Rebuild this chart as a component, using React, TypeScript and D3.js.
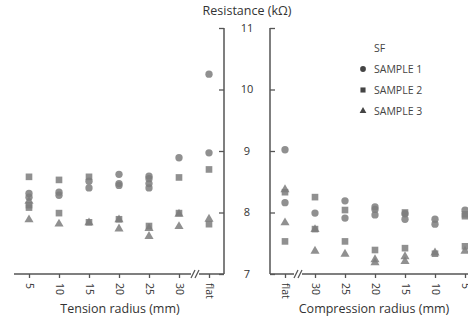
import * as React from 'react'
import { useEffect, useRef } from 'react'
import * as d3 from 'd3'

// categories
const tensionCats = ['5', '10', '15', '20', '25', '30', 'flat']
const compressionCats = ['flat', '30', '25', '20', '15', '10', '5']
const yTicks = [7, 8, 9, 10, 11]
const seriesNames = ['SAMPLE 1', 'SAMPLE 2', 'SAMPLE 3']

// [category, resistance]
const tensionS1: [string, number][] = [
  ['5', 8.31], ['5', 8.25], ['10', 8.33], ['10', 8.28], ['15', 8.51], ['15', 8.4],
  ['20', 8.62], ['20', 8.47], ['20', 8.44], ['25', 8.59], ['25', 8.55], ['25', 8.47],
  ['25', 8.4], ['30', 8.89], ['flat', 10.25], ['flat', 8.97],
]
const tensionS2: [string, number][] = [
  ['5', 8.58], ['5', 8.12], ['5', 8.08], ['10', 8.53], ['10', 7.99], ['15', 8.58],
  ['15', 7.84], ['20', 7.89], ['25', 7.78], ['30', 8.57], ['30', 7.99],
  ['flat', 8.7], ['flat', 7.81],
]
const tensionS3: [string, number][] = [
  ['5', 8.2], ['5', 7.9], ['10', 7.83], ['15', 7.85], ['20', 7.9], ['20', 7.75],
  ['25', 7.76], ['25', 7.63], ['30', 7.99], ['30', 7.79], ['flat', 7.91],
]
const compS1: [string, number][] = [
  ['flat', 9.02], ['flat', 8.16], ['30', 7.99], ['25', 8.19], ['25', 7.91],
  ['20', 8.09], ['20', 8.05], ['20', 7.96], ['15', 7.98], ['15', 7.89],
  ['10', 7.89], ['10', 7.81], ['5', 8.04],
]
const compS2: [string, number][] = [
  ['flat', 8.33], ['flat', 7.53], ['30', 8.25], ['30', 7.73], ['25', 8.04], ['25', 7.53],
  ['20', 7.39], ['15', 8.0], ['15', 7.42], ['10', 7.33], ['5', 7.97], ['5', 7.94], ['5', 7.45],
]
const compS3: [string, number][] = [
  ['flat', 8.39], ['flat', 7.85], ['30', 7.74], ['30', 7.39], ['25', 7.34],
  ['20', 7.25], ['20', 7.2], ['15', 7.3], ['15', 7.22], ['10', 7.36], ['5', 7.39],
]

const W = 468
const H = 318
const FONT = '"Open Sans", sans-serif'
const AXIS = '#555'
const MARK = '#7d7d7d'

const App = () => {
  const ref = useRef<SVGSVGElement | null>(null)

  useEffect(() => {
    const svg = d3.select(ref.current)
    svg.selectAll('*').remove()

    const y = d3.scaleLinear().domain([7, 11]).range([274, 28])
    const xL = d3.scalePoint().domain(tensionCats).range([29, 209])
    const xR = d3.scalePoint().domain(compressionCats).range([285, 465])

    const symbols = [d3.symbolCircle, d3.symbolSquare, d3.symbolTriangle]
    const sizes = [42, 44, 36]

    const drawPoints = (data: [string, number][][], x: d3.ScalePoint<string>) => {
      data.forEach((pts, i) => {
        const sym = d3.symbol().type(symbols[i]).size(sizes[i])
        svg.append('g')
          .selectAll('path')
          .data(pts)
          .enter()
          .append('path')
          .attr('d', sym)
          .attr('transform', d => `translate(${x(d[0])},${y(d[1]) + (i === 2 ? 1 : 0)})`)
          .attr('fill', MARK)
          .attr('fill-opacity', 0.85)
      })
    }

    // left panel: bottom axis
    const gL = svg.append('g').attr('transform', 'translate(0,274)')
    gL.call(d3.axisBottom(xL).tickSize(4).tickSizeOuter(0))
    gL.select('.domain').remove()
    gL.append('line').attr('x1', 14).attr('x2', 224).attr('stroke', AXIS).attr('stroke-width', 1.5)
    // left panel: right axis, no labels
    const gLY = svg.append('g').attr('transform', 'translate(224,0)')
    gLY.call(d3.axisLeft(y).tickValues(yTicks).tickSize(5).tickFormat(() => ''))
    gLY.select('.domain').remove()
    gLY.append('line').attr('y1', 28).attr('y2', 274).attr('stroke', AXIS).attr('stroke-width', 1.5)

    // right panel
    const gR = svg.append('g').attr('transform', 'translate(0,274)')
    gR.call(d3.axisBottom(xR).tickSize(4).tickSizeOuter(0))
    gR.select('.domain').remove()
    gR.append('line').attr('x1', 270).attr('x2', W).attr('stroke', AXIS).attr('stroke-width', 1.5)
    const gRY = svg.append('g').attr('transform', 'translate(270,0)')
    gRY.call(d3.axisRight(y).tickValues(yTicks).tickSize(5).tickFormat(() => ''))
    gRY.select('.domain').remove()
    gRY.append('line').attr('y1', 28).attr('y2', 274).attr('stroke', AXIS).attr('stroke-width', 1.5)

    svg.selectAll('.tick line').attr('stroke', AXIS).attr('stroke-width', 1.3)

    // rotated category labels
    ;[gL, gR].forEach(g => {
      g.selectAll('.tick text')
        .attr('transform', 'rotate(90)')
        .attr('x', 9)
        .attr('y', 0)
        .attr('dy', '0.35em')
        .attr('text-anchor', 'start')
        .attr('fill', '#333')
        .style('font-family', FONT)
        .style('font-size', '10.5px')
    })

    // y tick labels (between panels)
    svg.append('g')
      .selectAll('text')
      .data(yTicks)
      .enter()
      .append('text')
      .attr('x', 247)
      .attr('y', d => y(d))
      .attr('dy', '0.35em')
      .attr('text-anchor', 'middle')
      .attr('fill', '#333')
      .style('font-family', FONT)
      .style('font-size', '11px')
      .text(d => d)

    // axis breaks
    ;[195, 298].forEach(bx => {
      svg.append('rect').attr('x', bx - 4).attr('y', 272).attr('width', 8).attr('height', 4).attr('fill', 'white')
      ;[-2, 2].forEach(o => {
        svg.append('line')
          .attr('x1', bx + o - 2).attr('y1', 278)
          .attr('x2', bx + o + 2).attr('y2', 270)
          .attr('stroke', AXIS).attr('stroke-width', 1.2)
      })
    })

    drawPoints([tensionS1, tensionS2, tensionS3], xL)
    drawPoints([compS1, compS2, compS3], xR)

    // titles
    const title = (t: string, x: number, yy: number) =>
      svg.append('text').attr('x', x).attr('y', yy).attr('text-anchor', 'middle')
        .attr('fill', '#333').style('font-family', FONT).style('font-size', '12.5px').text(t)
    title('Resistance (kΩ)', 247, 15)
    title('Tension radius (mm)', 120, 313)
    title('Compression radius (mm)', 374, 313)

    // legend
    const lg = svg.append('g').attr('transform', 'translate(363,0)')
    lg.append('text').attr('x', 11).attr('y', 48).attr('dy', '0.35em')
      .attr('fill', '#444').style('font-family', FONT).style('font-size', '10.5px').text('SF')
    seriesNames.forEach((n, i) => {
      const yy = 69 + i * 21
      lg.append('path')
        .attr('d', d3.symbol().type(symbols[i]).size([26, 26, 20][i])())
        .attr('transform', `translate(0,${yy})`)
        .attr('fill', '#444')
      lg.append('text').attr('x', 11).attr('y', yy).attr('dy', '0.35em')
        .attr('fill', '#444').style('font-family', FONT).style('font-size', '10.5px').text(n)
    })
  }, [])

  return (
    <svg ref={ref} width={W} height={H}
      style={{ position: 'absolute', left: 0, top: 0, background: 'white' }} />
  )
}

export default App
